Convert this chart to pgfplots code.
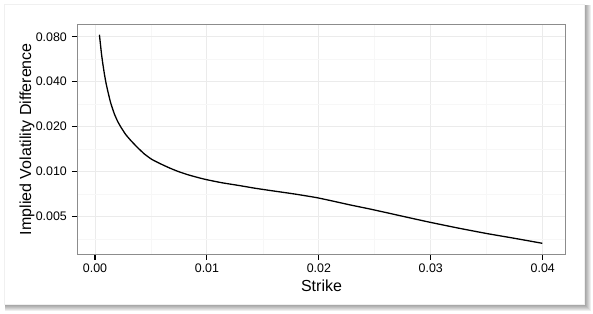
\documentclass[border=0pt]{standalone}
\usepackage{pgfplots}
\pgfplotsset{compat=1.18}
\usepackage{fontspec}
\setmainfont{Liberation Sans}
\definecolor{gridmaj}{HTML}{EBEBEB}
\definecolor{gridmin}{HTML}{F7F7F7}
\definecolor{panelframe}{HTML}{8C8C8C}
\definecolor{cardline}{HTML}{F0F0F0}
\begin{document}
\begin{tikzpicture}
\useasboundingbox (0bp,0bp) rectangle (593bp,314bp);
\fill[white] (0bp,0bp) rectangle (593bp,314bp);
\foreach \r in {0,...,6} {\fill[black,opacity=0.065] (5bp,9bp-\r bp) rectangle (585bp+\r bp,309bp);}
\filldraw[fill=white,draw=cardline,line width=0.6bp] (4bp,10bp) rectangle (584bp,310bp);
\begin{axis}[
  at={(78bp,60bp)}, anchor=south west,
  scale only axis, width=487bp, height=229.7bp,
  ymode=log,
  xmin=-0.00152, xmax=0.04199,
  ymin=0.002815, ymax=0.0969,
  scaled x ticks=false,
  xtick={0,0.01,0.02,0.03,0.04},
  xticklabels={0.00,0.01,0.02,0.03,0.04},
  minor xtick={0.005,0.015,0.025,0.035},
  ytick={0.005,0.01,0.02,0.04,0.08},
  yticklabels={0.005,0.010,0.020,0.040,0.080},
  minor ytick={0.0035355,0.0070711,0.0141421,0.0282843,0.0565685},
  grid=both,
  major grid style={color=gridmaj, line width=0.9bp},
  minor grid style={color=gridmin, line width=0.7bp},
  tick pos=left, tick align=outside,
  major tick length=6bp, minor tick length=0pt,
  tick style={black, line width=1.1bp},
  axis line style={panelframe, line width=1bp},
  /pgf/number format/assume math mode=true,
  ticklabel style={font=\fontsize{12.4bp}{14bp}\selectfont},
  xticklabel style={anchor=north, inner sep=0pt, yshift=-4bp},
  yticklabel style={anchor=east, inner sep=0pt, xshift=-5bp},
  xlabel={Strike},
  xlabel style={at={(axis description cs:0.5,-0.139)}, anchor=center, inner sep=0pt, font=\fontsize{16bp}{18bp}\selectfont},
  ylabel={Implied Volatility Difference},
  ylabel style={at={(axis description cs:-0.1047,0.5)}, anchor=center, inner sep=0pt, font=\fontsize{16bp}{18bp}\selectfont},
]
\addplot[black, line width=1.3bp, smooth, tension=0.3] coordinates {
(0.000393,0.0825) (0.000483,0.0715) (0.000581,0.0613) (0.000688,0.0534)
(0.000840,0.0450) (0.000983,0.0392) (0.001135,0.0348) (0.001404,0.0288)
(0.001734,0.0243) (0.002029,0.02167) (0.002325,0.01981) (0.002745,0.01773)
(0.003219,0.01611) (0.003818,0.01447) (0.004417,0.01313) (0.005069,0.01210)
(0.005901,0.01125) (0.006679,0.01058) (0.007394,0.01006) (0.008288,0.00955)
(0.009182,0.00915) (0.009960,0.00885) (0.011328,0.00844) (0.012937,0.00807)
(0.014368,0.00774) (0.015914,0.00744) (0.017854,0.00709) (0.019794,0.00671)
(0.021252,0.00636) (0.022771,0.00600) (0.024560,0.00563) (0.026348,0.00526)
(0.028136,0.00491) (0.029924,0.00459) (0.032427,0.00420) (0.034993,0.00386)
(0.037523,0.00358) (0.039964,0.00332)
};
\end{axis}
\end{tikzpicture}
\end{document}
